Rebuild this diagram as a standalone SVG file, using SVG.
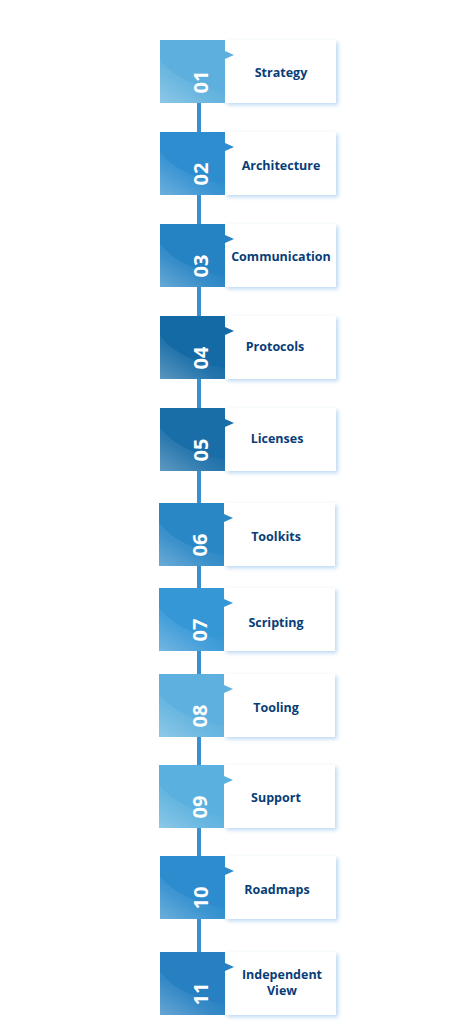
<svg xmlns="http://www.w3.org/2000/svg" width="465" height="1025" viewBox="0 0 465 1025">
<defs>
<style>
.lbl{font-family:"Open Sans","Liberation Sans",sans-serif;font-weight:bold;font-size:12.5px;fill:#083d78;text-anchor:middle;dominant-baseline:central}
.num{font-family:"Open Sans","Liberation Sans",sans-serif;font-weight:bold;font-size:20px;fill:#ffffff;text-anchor:middle;dominant-baseline:central}
.card{fill:#ffffff;filter:url(#sh)}
.conn{stroke:#3a8fcf;stroke-width:4;fill:none}
</style>
<filter id="sh" x="-20%" y="-20%" width="150%" height="150%">
<feDropShadow dx="2" dy="2" stdDeviation="2" flood-color="#7fb6e6" flood-opacity="0.55"/>
</filter>
<linearGradient id="sheen" x1="0" y1="1" x2="0.7" y2="0.3">
<stop offset="0" stop-color="#ffffff" stop-opacity="0.3"/>
<stop offset="0.6" stop-color="#ffffff" stop-opacity="0.08"/>
<stop offset="1" stop-color="#ffffff" stop-opacity="0"/>
</linearGradient>
</defs>
<rect width="465" height="1025" fill="#ffffff"/>
<g id="connectors">
<line class="conn" x1="199" y1="102" x2="199" y2="132"/>
<line class="conn" x1="199" y1="194" x2="199" y2="224"/>
<line class="conn" x1="199" y1="286" x2="199" y2="316"/>
<line class="conn" x1="199" y1="378" x2="199" y2="408"/>
<line class="conn" x1="199" y1="470" x2="199" y2="503"/>
<line class="conn" x1="199" y1="565" x2="199" y2="588"/>
<line class="conn" x1="199" y1="650" x2="199" y2="674"/>
<line class="conn" x1="199" y1="736" x2="199" y2="765"/>
<line class="conn" x1="199" y1="827" x2="199" y2="856"/>
<line class="conn" x1="199" y1="918" x2="199" y2="952"/>
</g>
<g id="node01" transform="translate(0,40)">
<rect class="card" x="225" y="0" width="111" height="63"/>
<rect x="160" y="0" width="65" height="63" fill="#5db0dd"/>
<path d="M160 63 L160 20 Q180 45 225 52 L225 63 Z" fill="url(#sheen)"/>
<polygon points="225,11 234,15 225,19" fill="#5db0dd"/>
<text class="num" transform="translate(200,42) rotate(-90)">01</text>
<text class="lbl" x="281" y="32">Strategy</text>
</g>
<g id="node02" transform="translate(0,132)">
<rect class="card" x="225" y="0" width="111" height="63"/>
<rect x="160" y="0" width="65" height="63" fill="#2d8dcf"/>
<path d="M160 63 L160 20 Q180 45 225 52 L225 63 Z" fill="url(#sheen)"/>
<polygon points="225,11 234,15 225,19" fill="#2d8dcf"/>
<text class="num" transform="translate(200,42) rotate(-90)">02</text>
<text class="lbl" x="281" y="33">Architecture</text>
</g>
<g id="node03" transform="translate(0,224)">
<rect class="card" x="225" y="0" width="111" height="63"/>
<rect x="160" y="0" width="65" height="63" fill="#2583c4"/>
<path d="M160 63 L160 20 Q180 45 225 52 L225 63 Z" fill="url(#sheen)"/>
<polygon points="225,11 234,15 225,19" fill="#2583c4"/>
<text class="num" transform="translate(200,42) rotate(-90)">03</text>
<text class="lbl" x="281" y="32">Communication</text>
</g>
<g id="node04" transform="translate(0,316)">
<rect class="card" x="225" y="0" width="111" height="63"/>
<rect x="160" y="0" width="65" height="63" fill="#146aa5"/>
<path d="M160 63 L160 20 Q180 45 225 52 L225 63 Z" fill="url(#sheen)"/>
<polygon points="225,11 234,15 225,19" fill="#146aa5"/>
<text class="num" transform="translate(200,42) rotate(-90)">04</text>
<text class="lbl" x="275" y="30">Protocols</text>
</g>
<g id="node05" transform="translate(0,408)">
<rect class="card" x="225" y="0" width="111" height="63"/>
<rect x="160" y="0" width="65" height="63" fill="#1a6ea8"/>
<path d="M160 63 L160 20 Q180 45 225 52 L225 63 Z" fill="url(#sheen)"/>
<polygon points="225,11 234,15 225,19" fill="#1a6ea8"/>
<text class="num" transform="translate(200,42) rotate(-90)">05</text>
<text class="lbl" x="277" y="30">Licenses</text>
</g>
<g id="node06" transform="translate(0,503)">
<rect class="card" x="224" y="0" width="111" height="63"/>
<rect x="159" y="0" width="65" height="63" fill="#2a87c6"/>
<path d="M159 63 L159 20 Q179 45 224 52 L224 63 Z" fill="url(#sheen)"/>
<polygon points="224,11 233,15 224,19" fill="#2a87c6"/>
<text class="num" transform="translate(199,42) rotate(-90)">06</text>
<text class="lbl" x="276" y="33">Toolkits</text>
</g>
<g id="node07" transform="translate(0,588)">
<rect class="card" x="224" y="0" width="111" height="63"/>
<rect x="159" y="0" width="65" height="63" fill="#3697d6"/>
<path d="M159 63 L159 20 Q179 45 224 52 L224 63 Z" fill="url(#sheen)"/>
<polygon points="224,11 233,15 224,19" fill="#3697d6"/>
<text class="num" transform="translate(199,42) rotate(-90)">07</text>
<text class="lbl" x="276" y="34">Scripting</text>
</g>
<g id="node08" transform="translate(0,674)">
<rect class="card" x="224" y="0" width="111" height="63"/>
<rect x="159" y="0" width="65" height="63" fill="#5eb1de"/>
<path d="M159 63 L159 20 Q179 45 224 52 L224 63 Z" fill="url(#sheen)"/>
<polygon points="224,11 233,15 224,19" fill="#5eb1de"/>
<text class="num" transform="translate(199,42) rotate(-90)">08</text>
<text class="lbl" x="276" y="33">Tooling</text>
</g>
<g id="node09" transform="translate(0,765)">
<rect class="card" x="224" y="0" width="111" height="63"/>
<rect x="159" y="0" width="65" height="63" fill="#5ab0de"/>
<path d="M159 63 L159 20 Q179 45 224 52 L224 63 Z" fill="url(#sheen)"/>
<polygon points="224,11 233,15 224,19" fill="#5ab0de"/>
<text class="num" transform="translate(199,42) rotate(-90)">09</text>
<text class="lbl" x="276" y="32">Support</text>
</g>
<g id="node10" transform="translate(0,856)">
<rect class="card" x="225" y="0" width="111" height="63"/>
<rect x="160" y="0" width="65" height="63" fill="#2c8ccd"/>
<path d="M160 63 L160 20 Q180 45 225 52 L225 63 Z" fill="url(#sheen)"/>
<polygon points="225,11 234,15 225,19" fill="#2c8ccd"/>
<text class="num" transform="translate(200,42) rotate(-90)">10</text>
<text class="lbl" x="277" y="33">Roadmaps</text>
</g>
<g id="node11" transform="translate(0,952)">
<rect class="card" x="225" y="0" width="111" height="63"/>
<rect x="160" y="0" width="65" height="63" fill="#2680c2"/>
<path d="M160 63 L160 20 Q180 45 225 52 L225 63 Z" fill="url(#sheen)"/>
<polygon points="225,11 234,15 225,19" fill="#2680c2"/>
<text class="num" transform="translate(200,42) rotate(-90)">11</text>
<text class="lbl" x="282" y="22">Independent</text>
<text class="lbl" x="282" y="38">View</text>
</g>
</svg>
